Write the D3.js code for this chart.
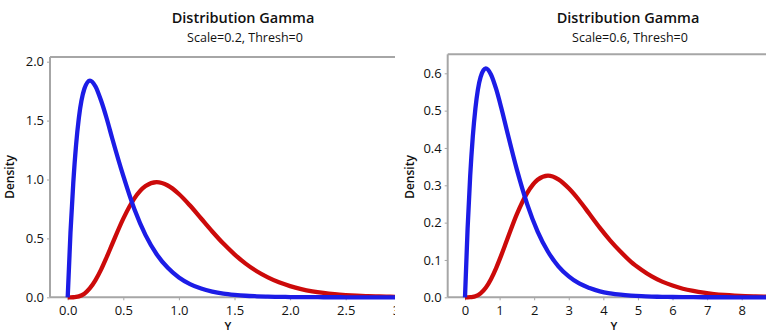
<!DOCTYPE html>
<html>
<head>
<meta charset="utf-8">
<script src="https://cdn.jsdelivr.net/npm/d3@7"></script>
<style>
  body { margin: 0; background: #fff; }
  text { font-family: "Open Sans", "Noto Sans", sans-serif; fill: #111; }
</style>
</head>
<body>
<script>
// values (x grid + density for each curve)
const xLeft = [0, 0.025, 0.05, 0.075, 0.1, 0.15, 0.2, 0.25, 0.3, 0.35, 0.4, 0.5, 0.6, 0.7, 0.8, 0.9, 1.0,
  1.1, 1.2, 1.3, 1.4, 1.5, 1.6, 1.7, 1.8, 1.9, 2.0, 2.1, 2.2, 2.3, 2.4, 2.5, 2.6, 2.7, 2.8, 2.9, 3.0, 3.1, 3.2]
const blueLeft = [0, 0.55, 0.97, 1.29, 1.52, 1.77, 1.84, 1.79, 1.67, 1.52, 1.35, 1.03, 0.747, 0.528, 0.366, 0.25, 0.168,
  0.112, 0.074, 0.049, 0.032, 0.021, 0.013, 0.0087, 0.0056, 0.0036, 0.0023, 0.0015, 0.0009, 0.0006, 0.0004, 0.0002, 0.00015, 0.0001, 0.00006, 0.00004, 0.00002, 0.00001, 0.00001]
const redLeft = [0, 0.00004, 0.0006, 0.0028, 0.0079, 0.031, 0.077, 0.146, 0.235, 0.34, 0.451, 0.668, 0.84, 0.944, 0.977, 0.949, 0.877,
  0.779, 0.669, 0.559, 0.456, 0.365, 0.286, 0.221, 0.169, 0.127, 0.095, 0.07, 0.051, 0.037, 0.0265, 0.019, 0.0134, 0.0095, 0.0067, 0.0046, 0.0032, 0.0022, 0.0015]

const xRight = [0, 0.075, 0.15, 0.225, 0.3, 0.45, 0.6, 0.75, 0.9, 1.05, 1.2, 1.5, 1.8, 2.1, 2.4, 2.7, 3.0,
  3.3, 3.6, 3.9, 4.2, 4.5, 4.8, 5.1, 5.4, 5.7, 6.0, 6.3, 6.6, 6.9, 7.2, 7.5, 7.8, 8.1, 8.4, 8.7, 9.0, 9.3, 9.6]
const blueRight = [0, 0.184, 0.325, 0.43, 0.505, 0.59, 0.613, 0.597, 0.558, 0.507, 0.451, 0.342, 0.249, 0.176, 0.122, 0.083, 0.056,
  0.037, 0.025, 0.016, 0.0106, 0.0069, 0.0045, 0.0029, 0.0019, 0.0012, 0.0008, 0.0005, 0.0003, 0.0002, 0.0001, 0.0001, 0.00005, 0.00003, 0.00002, 0.00001, 0.00001, 0, 0]
const redRight = [0, 0.00001, 0.0002, 0.0009, 0.0026, 0.0104, 0.0255, 0.0486, 0.0784, 0.113, 0.15, 0.223, 0.28, 0.315, 0.326, 0.316, 0.292,
  0.26, 0.223, 0.186, 0.152, 0.122, 0.095, 0.074, 0.056, 0.042, 0.0315, 0.023, 0.017, 0.0123, 0.0088, 0.0063, 0.0045, 0.0032, 0.0022, 0.0015, 0.0011, 0.0007, 0.0005]

const leftYTicks = [0, 0.5, 1.0, 1.5, 2.0]
const leftXTicks = [0, 0.5, 1.0, 1.5, 2.0, 2.5, 3.0]
const rightYTicks = [0, 0.1, 0.2, 0.3, 0.4, 0.5, 0.6]
const rightXTicks = [0, 1, 2, 3, 4, 5, 6, 7, 8]

const W = 766, H = 334
const axisColor = "#a6a6a6"
const blue = "#1c1ce6", red = "#cc0a0a"

const svg = d3.select("body").append("svg")
    .attr("width", W)
    .attr("height", H)

svg.append("defs").append("clipPath")
    .attr("id", "clipLeft")
    .append("rect").attr("x", 0).attr("y", 0).attr("width", 395).attr("height", H)

function panel(opts) {
    let g = svg.append("g")
    if (opts.clip) g.attr("clip-path", "url(#" + opts.clip + ")")

    let x = d3.scaleLinear().domain(opts.xDomain).range(opts.xRange)
    let y = d3.scaleLinear().domain(opts.yDomain).range(opts.yRange)

    // titles
    g.append("text")
        .attr("x", opts.titleX).attr("y", 23)
        .attr("text-anchor", "middle")
        .style("font-size", "14.5px").style("font-weight", 600)
        .text("Distribution Gamma")
    g.append("text")
        .attr("x", opts.titleX + 2).attr("y", 41.5)
        .attr("text-anchor", "middle")
        .style("font-size", "12.5px")
        .text(opts.subtitle)

    // frame: top line + left axis + bottom axis
    g.append("line")
        .attr("x1", opts.frameLeft).attr("x2", W)
        .attr("y1", opts.frameTop).attr("y2", opts.frameTop)
        .attr("stroke", axisColor).attr("stroke-width", 2)

    let yAxis = d3.axisLeft(y).tickValues(opts.yTicks).tickSize(3).tickPadding(3).tickFormat(d3.format(".1f"))
    let gy = g.append("g")
        .attr("transform", "translate(" + opts.frameLeft + ",0)")
        .call(yAxis)
    gy.select(".domain").remove()
    g.append("line")
        .attr("x1", opts.frameLeft).attr("x2", opts.frameLeft)
        .attr("y1", opts.frameTop).attr("y2", opts.yRange[0])
        .attr("stroke", axisColor).attr("stroke-width", 2)

    let xAxis = d3.axisBottom(x).tickValues(opts.xTicks).tickSize(3).tickPadding(5).tickFormat(opts.xFormat)
    let gx = g.append("g")
        .attr("transform", "translate(0," + opts.yRange[0] + ")")
        .call(xAxis)
    gx.select(".domain").remove()
    g.append("line")
        .attr("x1", opts.frameLeft).attr("x2", W)
        .attr("y1", opts.yRange[0]).attr("y2", opts.yRange[0])
        .attr("stroke", axisColor).attr("stroke-width", 2)

    g.selectAll(".tick line").attr("stroke", axisColor)
    g.selectAll(".tick text").style("font-size", "13px").style("font-family", "'Open Sans', sans-serif").attr("fill", "#111")

    // axis labels
    g.append("text")
        .attr("transform", "translate(" + opts.densityX + ",177) rotate(-90)")
        .attr("text-anchor", "middle")
        .style("font-size", "12px").style("font-weight", 600)
        .text("Density")
    g.append("text")
        .attr("x", opts.yLabelX).attr("y", 330)
        .attr("text-anchor", "middle")
        .style("font-size", "11.5px").style("font-weight", 600)
        .text("Y")

    // curves
    let plot = g.append("g")
    let line = d3.line()
        .x(d => x(d[0]))
        .y(d => y(d[1]))
        .curve(d3.curveMonotoneX)

    let series = [
        { color: red, data: opts.xs.map((v, i) => [v, opts.red[i]]) },
        { color: blue, data: opts.xs.map((v, i) => [v, opts.blue[i]]) }
    ]
    plot.selectAll("path.curve")
        .data(series)
        .enter().append("path")
        .attr("class", "curve")
        .attr("d", d => line(d.data))
        .attr("fill", "none")
        .attr("stroke", d => d.color)
        .attr("stroke-width", 4.3)
        .attr("stroke-linejoin", "round")
}

panel({
    clip: "clipLeft",
    xDomain: [0, 3], xRange: [67.7, 401.3],
    yDomain: [0, 2], yRange: [297.3, 61.7],
    frameLeft: 50, frameTop: 57,
    titleX: 243, subtitle: "Scale=0.2, Thresh=0",
    yTicks: leftYTicks, xTicks: leftXTicks, xFormat: d3.format(".1f"),
    densityX: 14, yLabelX: 228,
    xs: xLeft, blue: blueLeft, red: redLeft
})

panel({
    xDomain: [0, 8], xRange: [465, 741.7],
    yDomain: [0, 0.6], yRange: [297.3, 73.3],
    frameLeft: 447.7, frameTop: 54.3,
    titleX: 628, subtitle: "Scale=0.6, Thresh=0",
    yTicks: rightYTicks, xTicks: rightXTicks, xFormat: d3.format("d"),
    densityX: 414, yLabelX: 614,
    xs: xRight, blue: blueRight, red: redRight
})
</script>
</body>
</html>
